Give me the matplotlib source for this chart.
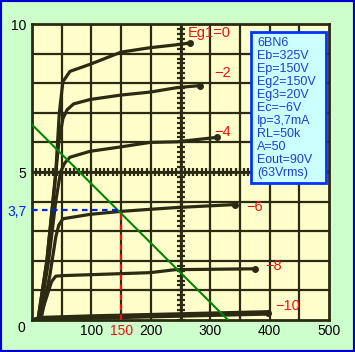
import numpy as np
import matplotlib.pyplot as plt
from matplotlib.patches import Rectangle

plt.rcParams['font.family'] = ['Liberation Sans', 'DejaVu Sans']

# 6BN6 plate curves, Ep (V) vs Ip (mA), one per Eg1 step
bias_labels = ['Eg1=0', '\u22122', '\u22124', '\u22126', '\u22128', '\u221210']
ep_g0 = [10, 25, 35, 40, 46, 52, 64, 98, 150, 199, 244, 266]
ip_g0 = [0, 2, 4, 5, 7, 8.05, 8.4, 8.64, 9.05, 9.2, 9.3, 9.36]
ep_g2 = [10, 25, 38, 45, 52, 59, 70, 98, 150, 199, 244, 283]
ip_g2 = [0, 2, 4.5, 6, 6.8, 7.1, 7.3, 7.45, 7.6, 7.7, 7.85, 7.92]
ep_g4 = [12, 28, 40, 48, 55, 64, 98, 150, 199, 244, 311]
ip_g4 = [0, 2, 4, 5, 5.3, 5.5, 5.7, 5.85, 6.0, 6.02, 6.17]
ep_g6 = [15, 30, 40, 45, 52, 98, 150, 199, 244, 342]
ip_g6 = [0, 1.5, 2.8, 3.2, 3.42, 3.57, 3.67, 3.74, 3.8, 3.9]
ep_g8 = [12, 25, 33, 40, 52, 98, 199, 241, 375]
ip_g8 = [0, 0.8, 1.3, 1.48, 1.5, 1.53, 1.6, 1.7, 1.73]
ep_g10 = [5, 20, 100, 250, 397]
ip_g10 = [0, 0.05, 0.1, 0.17, 0.24]

# load line and operating point
load_v = [0, 330]
load_i = [6.6, 0]
op_v = 150
op_i = 3.7

info_lines = ['6BN6', 'Eb=325V', 'Ep=150V', 'Eg2=150V', 'Eg3=20V', 'Ec=\u22126V',
              'Ip=3,7mA', 'RL=50k', 'A=50', 'Eout=90V', '(63Vrms)']

ink = '#2b2a12'
fig = plt.figure(figsize=(3.55, 3.52), dpi=100, facecolor='#ccffcc')
fig.patches.append(Rectangle((0, 0), 1, 1, transform=fig.transFigure, fill=False,
                             edgecolor='#0000cc', linewidth=3))
ax = fig.add_axes([32 / 355, 32 / 352, 297 / 355, 296 / 352])
ax.set_facecolor('#ffffcc')
ax.set_xlim(0, 500)
ax.set_ylim(0, 10)

# graticule
for v in np.arange(50, 500, 50):
    ax.axvline(v, color=ink, lw=1.6, zorder=1)
for i in np.arange(1, 10, 1):
    ax.axhline(i, color=ink, lw=1.6, zorder=1)
ax.axvline(250, color=ink, lw=2, zorder=1)
ax.axhline(5, color=ink, lw=2, zorder=1)
tx = np.arange(0, 500, 50 / 7)
ax.plot(tx, np.full_like(tx, 5), ls='none', marker='|', ms=6, mew=1.6, color=ink, zorder=1)
ty = np.arange(0, 10, 1 / 6)
ax.plot(np.full_like(ty, 250), ty, ls='none', marker='_', ms=6, mew=1.6, color=ink, zorder=1)
for s in ax.spines.values():
    s.set_color(ink)
    s.set_linewidth(2)

curves = [(ep_g0, ip_g0), (ep_g2, ip_g2), (ep_g4, ip_g4),
          (ep_g6, ip_g6), (ep_g8, ip_g8), (ep_g10, ip_g10)]
for k, (ep, ip) in enumerate(curves):
    lw = 4 if k == 5 else 2.3
    ax.plot(ep, ip, color=ink, lw=lw, solid_capstyle='round', solid_joinstyle='round', zorder=3)
    ax.plot(ep[-1], ip[-1], 'o', ms=4, color=ink, zorder=3)

label_pos = [(298, 9.7), (321, 8.34), (320, 6.35), (374, 3.82), (407, 1.82), (431, 0.47)]
for lab, (x, y) in zip(bias_labels, label_pos):
    ax.text(x, y, lab, color='#ee1111', fontsize=10.5, ha='center', va='center', zorder=5)

ax.plot(load_v, load_i, color='#008800', lw=1.5, zorder=4)
ax.plot([0, op_v], [op_i, op_i], color='#0022ee', lw=1.6, ls=(0, (2.5, 2)), zorder=4)
ax.plot([op_v, op_v], [0, op_i], color='#ee1111', lw=1.6, ls=(0, (2.5, 2)), zorder=4)

ax.set_xticks([100, 150, 200, 300, 400, 500])
ax.set_xticklabels(['100', '150', '200', '300', '400', '500'], fontsize=10)
ax.get_xticklabels()[1].set_color('#ee1111')
ax.set_yticks([op_i, 5, 10])
ax.set_yticklabels(['3,7', '5', '10'], fontsize=10)
ax.get_yticklabels()[0].set_color('#0022ee')
ax.tick_params(length=0)
ax.tick_params(axis='x', pad=3)
ax.tick_params(axis='y', pad=4)
ax.text(-0.035, -0.027, '0', transform=ax.transAxes, fontsize=10, ha='center', va='center')

ax.add_patch(Rectangle((0.737, 0.463), 0.253, 0.51, transform=ax.transAxes,
                       facecolor='#ccffff', edgecolor='#0033ff', lw=2, zorder=6))
for n, line in enumerate(info_lines):
    ax.text(0.758, 0.936 - n * 0.0439, line, transform=ax.transAxes, color='#1a3fd8',
            fontsize=9, ha='left', va='center', zorder=7)

fig.savefig('out.png', dpi=100, facecolor=fig.get_facecolor())
